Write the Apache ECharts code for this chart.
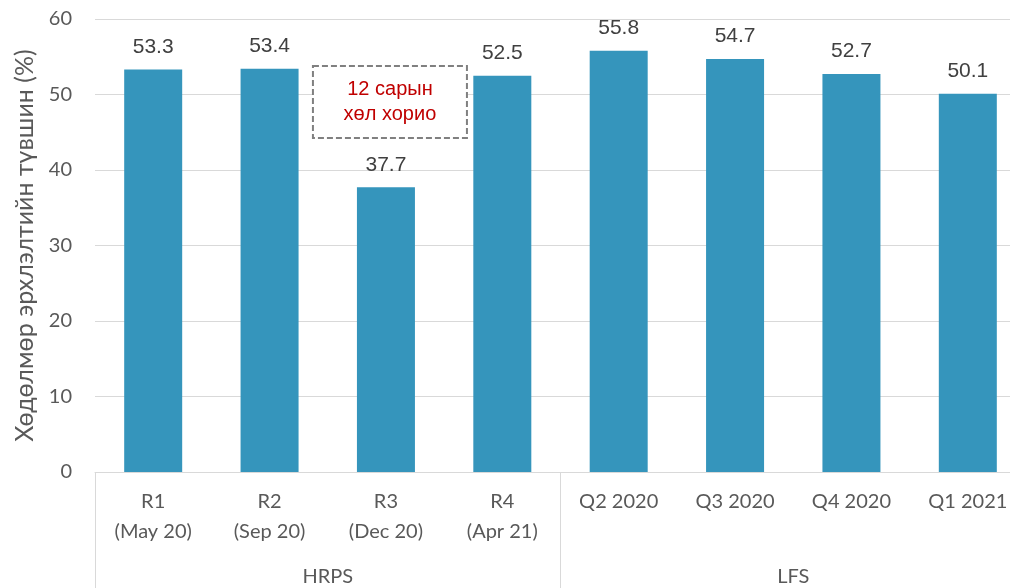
<!DOCTYPE html>
<html>
<head>
<meta charset="utf-8">
<script src="https://cdn.jsdelivr.net/npm/echarts@6/dist/echarts.min.js"></script>
<style>
  html, body { margin: 0; padding: 0; background: #fff; }
  #chart { width: 1010px; height: 588px; }
</style>
</head>
<body>
<div id="chart"></div>
<script>
// categories and values
const categories = ['R1\n(May 20)', 'R2\n(Sep 20)', 'R3\n(Dec 20)', 'R4\n(Apr 21)',
  'Q2 2020', 'Q3 2020', 'Q4 2020', 'Q1 2021']
const groups = ['HRPS', 'LFS']
const employmentRate = [53.3, 53.4, 37.7, 52.5, 55.8, 54.7, 52.7, 50.1]
const yTicks = { min: 0, max: 60, interval: 10 }
const yTitle = 'Хөдөлмөр эрхлэлтийн түвшин (%)'
const noteText = '12 сарын\nхөл хорио'

const axisFont = 'Lato, "Open Sans", sans-serif'
const labelFont = '"Liberation Sans", Arial, sans-serif'

const chart = echarts.init(document.getElementById('chart'), null, { renderer: 'canvas' })

const option = {
  animation: false,
  // plot runs past the right edge like in the reference, so keep it unclamped
  grid: { left: 95, top: 19, width: 931, height: 453, outerBoundsMode: 'none' },
  xAxis: [
    {
      type: 'category',
      data: categories,
      position: 'bottom',
      axisLine: { show: true, lineStyle: { color: '#d9d9d9', width: 1 } },
      axisTick: { show: false },
      axisLabel: {
        color: '#595959',
        fontFamily: axisFont,
        fontSize: 20,
        lineHeight: 30,
        margin: 15,
        interval: 0
      }
    },
    {
      // group level of the axis (HRPS / LFS) with long separator ticks
      type: 'category',
      data: groups,
      position: 'bottom',
      axisLine: { show: false },
      axisTick: { show: true, length: 116, lineStyle: { color: '#d9d9d9', width: 1 } },
      axisLabel: {
        color: '#595959',
        fontFamily: axisFont,
        fontSize: 20,
        margin: 95
      },
      splitLine: { show: false }
    }
  ],
  yAxis: {
    type: 'value',
    min: yTicks.min,
    max: yTicks.max,
    interval: yTicks.interval,
    name: yTitle,
    nameLocation: 'middle',
    nameGap: 53,
    nameTextStyle: { color: '#595959', fontFamily: axisFont, fontSize: 25 },
    axisLine: { show: false },
    axisTick: { show: false },
    axisLabel: { color: '#595959', fontFamily: axisFont, fontSize: 20, margin: 23 },
    splitLine: { lineStyle: { color: '#d9d9d9', width: 1 } }
  },
  series: [
    {
      type: 'bar',
      xAxisIndex: 0,
      data: employmentRate,
      barWidth: 58,
      itemStyle: { color: '#3595bc' },
      label: {
        show: true,
        position: 'top',
        distance: 12,
        color: '#404040',
        fontFamily: labelFont,
        fontSize: 21,
        formatter: p => p.value.toFixed(1)
      }
    }
  ]
}
chart.setOption(option)

// annotation box above R3, placed through the axes
const c = chart.convertToPixel({ xAxisIndex: 0, yAxisIndex: 0 }, [2, 49])
const boxW = 154, boxH = 72
chart.setOption({
  graphic: [
    {
      type: 'rect',
      shape: { x: c[0] - 73, y: c[1] - boxH / 2, width: boxW, height: boxH },
      style: { fill: '#fff', stroke: '#808080', lineWidth: 2, lineDash: [6, 3] },
      z: 10
    },
    {
      type: 'text',
      x: c[0] - 73 + boxW / 2,
      y: c[1],
      style: {
        text: noteText,
        fill: '#c00000',
        font: '20px ' + labelFont,
        lineHeight: 25,
        align: 'center',
        verticalAlign: 'middle'
      },
      z: 11
    }
  ]
})
</script>
</body>
</html>
